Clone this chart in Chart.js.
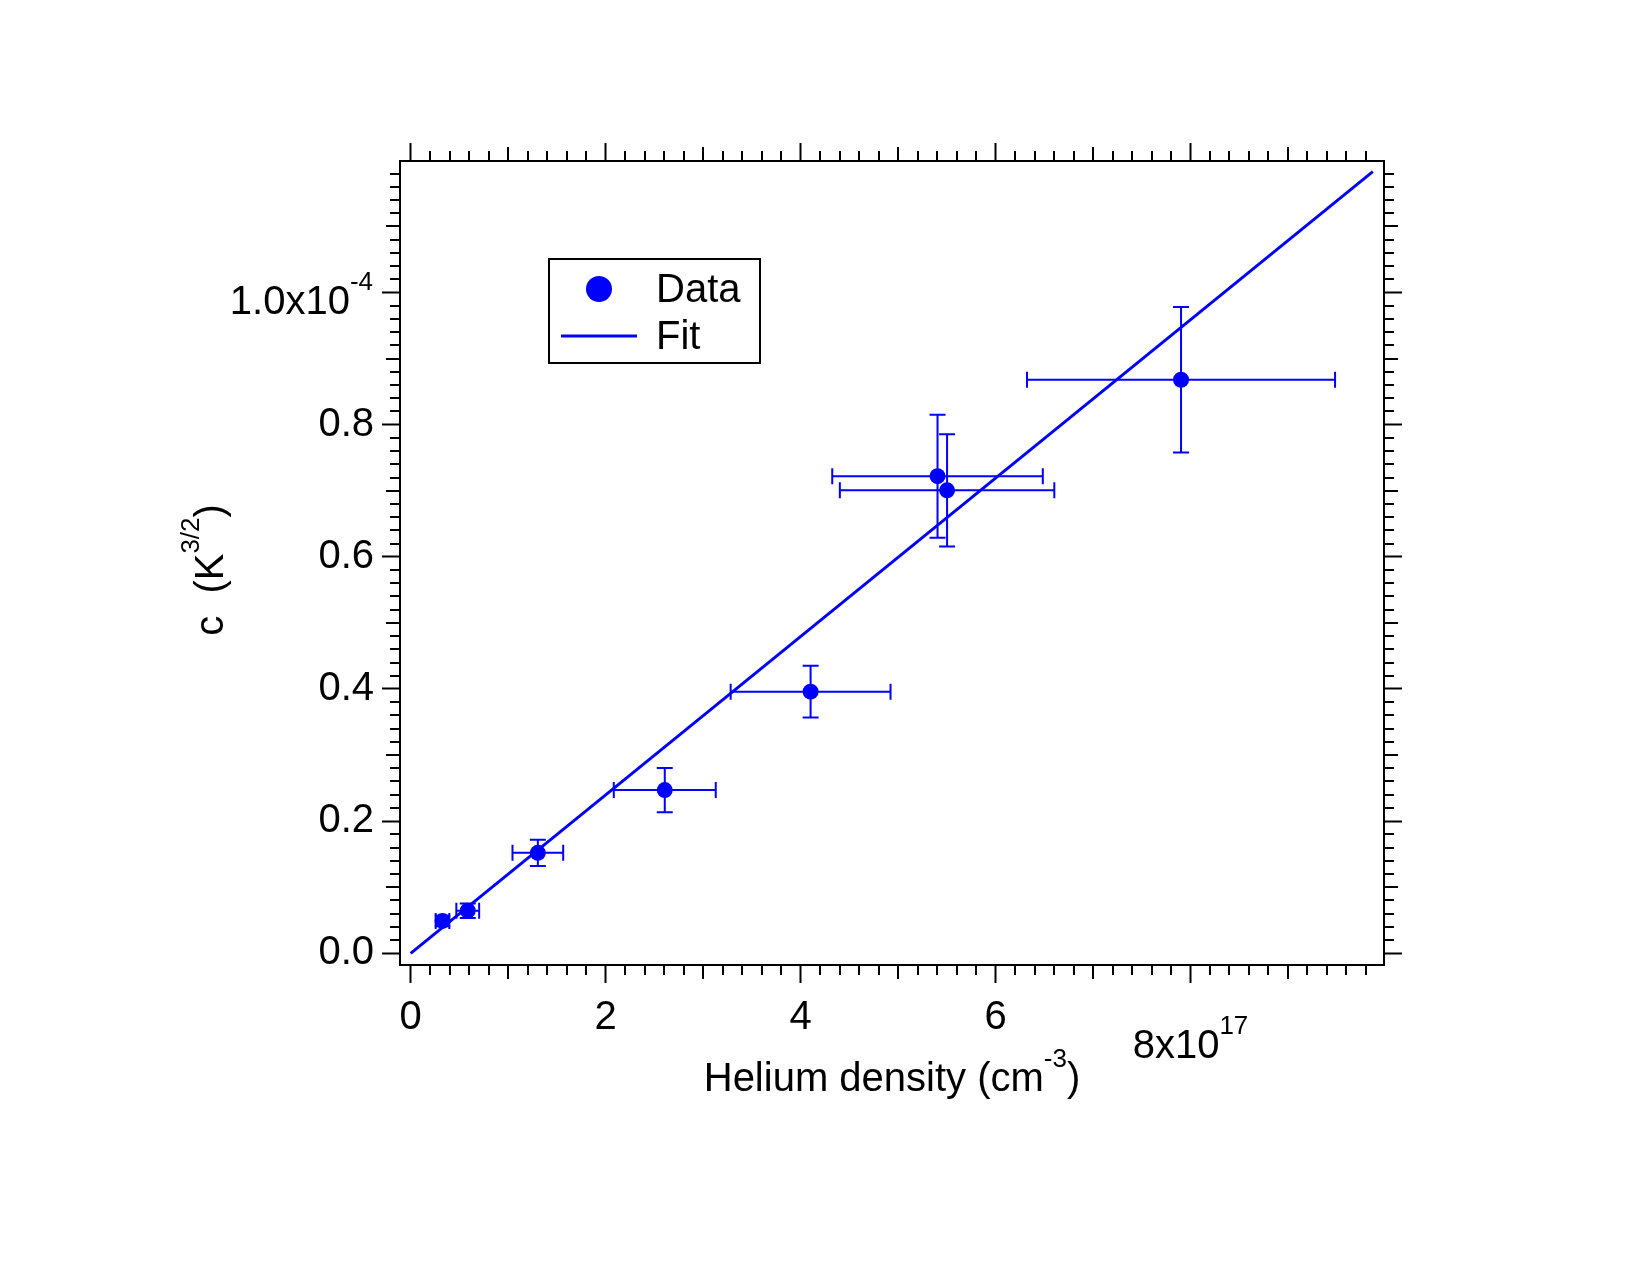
<!DOCTYPE html>
<html>
<head>
<meta charset="utf-8">
<script src="https://cdn.jsdelivr.net/npm/chart.js@4.4.1/dist/chart.umd.min.js"></script>
<style>
  html, body { margin: 0; padding: 0; background: #ffffff; }
  canvas { display: block; }
</style>
</head>
<body>
<canvas id="chart" width="1650" height="1275"></canvas>
<script>
// ---------------- DATA ----------------
// Helium density, in units of 1e17 cm^-3
const densityX   = [0.327, 0.586, 1.305, 2.607, 4.103, 5.405, 5.503, 7.903];
// c, in units of 1e-4 K^3/2
const coeffY     = [0.049, 0.0645, 0.152, 0.247, 0.396, 0.722, 0.7006, 0.868];
// symmetric error bars (same units)
const densityErr = [0.07, 0.117, 0.26, 0.523, 0.82, 1.08, 1.10, 1.58];
const coeffErr   = [0.008, 0.011, 0.02, 0.0335, 0.039, 0.093, 0.085, 0.11];
// linear fit end points
const fitX = [0, 9.87];
const fitY = [0, 1.183];

// axis ranges
const X_MIN = -0.109, X_MAX = 9.985;
const Y_MIN = -0.0177, Y_MAX = 1.199;

// tick labels
const xTickValues = [0, 2, 4, 6, 8];
const xTickLabels = ['0', '2', '4', '6', ''];
const yTickValues = [0, 0.2, 0.4, 0.6, 0.8, 1.0];
const yTickLabels = ['0.0', '0.2', '0.4', '0.6', '0.8', ''];
const xExpLabel = { value: 8, base: '8x10', exp: '17' };
const yExpLabel = { value: 1.0, base: '1.0x10', exp: '-4' };
const xMinorStep = 0.2;
const yMinorStep = 0.02;

const xTitle = [{ t: 'Helium density (cm' }, { t: '-3', sup: true }, { t: ')' }];
const yTitle = [{ t: 'c  (K' }, { t: '3/2', sup: true }, { t: ')' }];
const legendLabels = ['Data', 'Fit'];

// ---------------- STYLE ----------------
const FAMILY = "'Liberation Sans', Arial, Helvetica, sans-serif";
const BLUE = '#0000ff';
const MAIN_SIZE = 40, SUP_SIZE = 26, SUP_RAISE = 24;

function drawRich(ctx, parts, x, y, align) {
  let widths = parts.map(p => {
    ctx.font = (p.sup ? SUP_SIZE : MAIN_SIZE) + 'px ' + FAMILY;
    return ctx.measureText(p.t).width;
  });
  const total = widths.reduce((a, b) => a + b, 0);
  let cx = align === 'center' ? x - total / 2 : align === 'right' ? x - total : x;
  ctx.textAlign = 'left';
  ctx.textBaseline = 'alphabetic';
  ctx.fillStyle = '#000';
  parts.forEach((p, i) => {
    ctx.font = (p.sup ? SUP_SIZE : MAIN_SIZE) + 'px ' + FAMILY;
    ctx.fillText(p.t, cx, p.sup ? y - SUP_RAISE : y);
    cx += widths[i];
  });
}

const decorPlugin = {
  id: 'decor',
  afterDatasetsDraw(chart) {
    const ctx = chart.ctx;
    const xs = chart.scales.x, ys = chart.scales.y;
    const cap = 8;
    ctx.save();
    ctx.strokeStyle = BLUE;
    ctx.lineWidth = 2;
    for (let i = 0; i < densityX.length; i++) {
      const px = xs.getPixelForValue(densityX[i]);
      const py = ys.getPixelForValue(coeffY[i]);
      const x1 = xs.getPixelForValue(densityX[i] - densityErr[i]);
      const x2 = xs.getPixelForValue(densityX[i] + densityErr[i]);
      const y1 = ys.getPixelForValue(coeffY[i] - coeffErr[i]);
      const y2 = ys.getPixelForValue(coeffY[i] + coeffErr[i]);
      ctx.beginPath();
      ctx.moveTo(x1, py); ctx.lineTo(x2, py);
      ctx.moveTo(x1, py - cap); ctx.lineTo(x1, py + cap);
      ctx.moveTo(x2, py - cap); ctx.lineTo(x2, py + cap);
      ctx.moveTo(px, y1); ctx.lineTo(px, y2);
      ctx.moveTo(px - cap, y1); ctx.lineTo(px + cap, y1);
      ctx.moveTo(px - cap, y2); ctx.lineTo(px + cap, y2);
      ctx.stroke();
    }
    ctx.restore();
  },
  afterDraw(chart) {
    const ctx = chart.ctx;
    const xs = chart.scales.x, ys = chart.scales.y;
    const a = chart.chartArea;
    ctx.save();
    // minor / medium ticks
    ctx.strokeStyle = '#000';
    ctx.lineWidth = 2;
    ctx.beginPath();
    const nx = Math.floor(X_MAX / xMinorStep + 1e-6);
    for (let i = 0; i <= nx; i++) {
      const v = i * xMinorStep;
      if (i % 10 === 0) continue;
      const len = (i % 5 === 0) ? 14 : 10;
      const p = Math.round(xs.getPixelForValue(v));
      ctx.moveTo(p, a.bottom); ctx.lineTo(p, a.bottom + len);
      ctx.moveTo(p, a.top); ctx.lineTo(p, a.top - len);
    }
    const ny = Math.floor(Y_MAX / yMinorStep + 1e-6);
    for (let i = 0; i <= ny; i++) {
      const v = i * yMinorStep;
      if (i % 10 === 0) continue;
      const len = (i % 5 === 0) ? 14 : 10;
      const p = Math.round(ys.getPixelForValue(v));
      ctx.moveTo(a.left, p); ctx.lineTo(a.left - len, p);
      ctx.moveTo(a.right, p); ctx.lineTo(a.right + len, p);
    }
    ctx.stroke();

    // exponent tick labels
    drawRich(ctx, [{ t: xExpLabel.base }, { t: xExpLabel.exp, sup: true }],
      xs.getPixelForValue(xExpLabel.value), a.bottom + 93, 'center');
    drawRich(ctx, [{ t: yExpLabel.base }, { t: yExpLabel.exp, sup: true }],
      a.left - 27, ys.getPixelForValue(yExpLabel.value) + 22, 'right');

    // axis titles
    drawRich(ctx, xTitle, (a.left + a.right) / 2, a.bottom + 126, 'center');
    ctx.save();
    ctx.translate(a.left - 177, (a.top + a.bottom) / 2 + 7);
    ctx.rotate(-Math.PI / 2);
    drawRich(ctx, yTitle, 0, 0, 'center');
    ctx.restore();

    // legend
    const lx = a.left + 149, ly = a.top + 98;
    ctx.lineWidth = 2;
    ctx.strokeStyle = '#000';
    ctx.strokeRect(lx, ly, 211, 104);
    ctx.fillStyle = BLUE;
    ctx.beginPath();
    ctx.arc(lx + 50, ly + 30, 13, 0, Math.PI * 2);
    ctx.fill();
    ctx.strokeStyle = BLUE;
    ctx.lineWidth = 3;
    ctx.beginPath();
    ctx.moveTo(lx + 12, ly + 77); ctx.lineTo(lx + 88, ly + 77);
    ctx.stroke();
    ctx.fillStyle = '#000';
    ctx.font = '40px ' + FAMILY;
    ctx.textAlign = 'left';
    ctx.textBaseline = 'alphabetic';
    ctx.fillText(legendLabels[0], lx + 107, ly + 43);
    ctx.fillText(legendLabels[1], lx + 107, ly + 90);
    ctx.restore();
  }
};

function setTicks(values) {
  return scale => { scale.ticks = values.map(v => ({ value: v })); };
}
const gridOpts = { drawOnChartArea: false, drawTicks: true, tickLength: 18, tickWidth: 2, tickColor: '#000' };
const borderOpts = { display: true, color: '#000', width: 2 };
const tickFont = { family: FAMILY, size: MAIN_SIZE };

new Chart(document.getElementById('chart'), {
  type: 'scatter',
  data: {
    datasets: [
      {
        label: legendLabels[0],
        data: densityX.map((x, i) => ({ x: x, y: coeffY[i] })),
        backgroundColor: BLUE,
        borderColor: BLUE,
        borderWidth: 0,
        pointRadius: 8,
        pointHoverRadius: 8
      },
      {
        type: 'line',
        label: legendLabels[1],
        data: fitX.map((x, i) => ({ x: x, y: fitY[i] })),
        borderColor: BLUE,
        borderWidth: 3,
        pointRadius: 0,
        fill: false,
        tension: 0
      }
    ]
  },
  options: {
    responsive: false,
    devicePixelRatio: 1,
    animation: false,
    events: [],
    layout: { padding: 0 },
    plugins: { legend: { display: false }, tooltip: { enabled: false }, title: { display: false } },
    scales: {
      x: {
        type: 'linear', position: 'bottom', min: X_MIN, max: X_MAX,
        afterBuildTicks: setTicks(xTickValues),
        ticks: { callback: (v, i) => xTickLabels[i], font: tickFont, color: '#000', padding: 11, maxRotation: 0, autoSkip: false },
        grid: gridOpts, border: borderOpts,
        afterFit: s => { s.height = 310; }
      },
      xTop: {
        type: 'linear', position: 'top', min: X_MIN, max: X_MAX,
        afterBuildTicks: setTicks(xTickValues),
        ticks: { display: false },
        grid: gridOpts, border: borderOpts,
        afterFit: s => { s.height = 161; }
      },
      y: {
        type: 'linear', position: 'left', min: Y_MIN, max: Y_MAX,
        afterBuildTicks: setTicks(yTickValues),
        ticks: { callback: (v, i) => yTickLabels[i], font: tickFont, color: '#000', padding: 8, autoSkip: false },
        grid: gridOpts, border: borderOpts,
        afterFit: s => { s.width = 400; }
      },
      yRight: {
        type: 'linear', position: 'right', min: Y_MIN, max: Y_MAX,
        afterBuildTicks: setTicks(yTickValues),
        ticks: { display: false },
        grid: gridOpts, border: borderOpts,
        afterFit: s => { s.width = 266; }
      }
    }
  },
  plugins: [decorPlugin]
});
</script>
</body>
</html>
